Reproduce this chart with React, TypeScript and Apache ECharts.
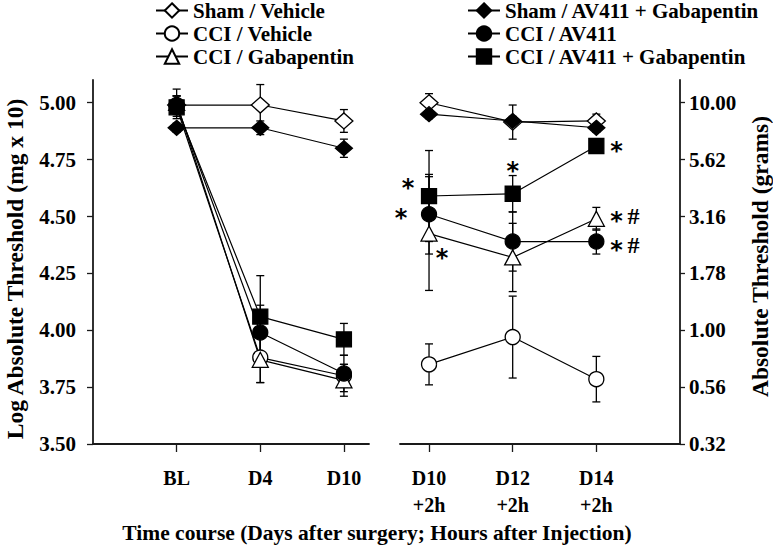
import React, { useEffect, useRef } from "react";
import * as echarts from "echarts";

// ---------- data ----------
const leftCategories = ["BL", "D4", "D10"];
const rightCategories = ["D10\n+2h", "D12\n+2h", "D14\n+2h"];
const yTickValues = [3.5, 3.75, 4.0, 4.25, 4.5, 4.75, 5.0];

const groupNames = [
  "Sham / Vehicle",
  "CCI / Vehicle",
  "CCI / Gabapentin",
  "Sham / AV411 + Gabapentin",
  "CCI / AV411",
  "CCI / AV411 + Gabapentin",
];

// Log absolute threshold means (left panel: BL, D4, D10)
const shamVehicleLeft = [4.99, 4.99, 4.92];
const cciVehicleLeft = [4.98, 3.88, 3.8];
const cciGabaLeft = [5.0, 3.87, 3.78];
const shamAvGabaLeft = [4.89, 4.89, 4.8];
const cciAvLeft = [4.99, 3.99, 3.81];
const cciAvGabaLeft = [4.98, 4.06, 3.96];

// SEM (left panel)
const shamVehicleLeftErr = [0.04, 0.09, 0.05];
const cciVehicleLeftErr = [0.05, 0.11, 0.05];
const cciGabaLeftErr = [0.06, 0.1, 0.07];
const shamAvGabaLeftErr = [0.02, 0.03, 0.04];
const cciAvLeftErr = [0.04, 0.12, 0.08];
const cciAvGabaLeftErr = [0.03, 0.18, 0.07];

// Means (right panel: D10+2h, D12+2h, D14+2h)
const shamVehicleRight = [5.0, 4.915, 4.92];
const cciVehicleRight = [3.85, 3.97, 3.785];
const cciGabaRight = [4.425, 4.32, 4.49];
const shamAvGabaRight = [4.95, 4.92, 4.89];
const cciAvRight = [4.51, 4.39, 4.39];
const cciAvGabaRight = [4.59, 4.6, 4.81];

// SEM (right panel)
const shamVehicleRightErr = [0.04, 0.075, 0.03];
const cciVehicleRightErr = [0.09, 0.18, 0.1];
const cciGabaRightErr = [0.25, 0.15, 0.05];
const shamAvGabaRightErr = [0.02, 0.02, 0.02];
const cciAvRightErr = [0.175, 0.13, 0.055];
const cciAvGabaRightErr = [0.2, 0.08, 0.03];

// significance annotations in right panel (x position, log value, text)
const annotX = [0.75, 0.665, 1.155, 2.0, 3.24, 3.24, 3.24];
const annotY = [4.653, 4.52, 4.342, 4.728, 4.816, 4.505, 4.38];
const annotText = ["*", "*", "*", "*", "*", "*#", "*#"];

const leftMeans = [shamVehicleLeft, cciVehicleLeft, cciGabaLeft, shamAvGabaLeft, cciAvLeft, cciAvGabaLeft];
const leftErrs = [shamVehicleLeftErr, cciVehicleLeftErr, cciGabaLeftErr, shamAvGabaLeftErr, cciAvLeftErr, cciAvGabaLeftErr];
const rightMeans = [shamVehicleRight, cciVehicleRight, cciGabaRight, shamAvGabaRight, cciAvRight, cciAvGabaRight];
const rightErrs = [shamVehicleRightErr, cciVehicleRightErr, cciGabaRightErr, shamAvGabaRightErr, cciAvRightErr, cciAvGabaRightErr];

// ---------- styles ----------
const FONT = "'Liberation Serif', 'Times New Roman', serif";
const STAR_FONT = "'DejaVu Sans', sans-serif";
const markerStyles: { symbol: string; size: number | number[]; fill: string }[] = [
  { symbol: "diamond", size: [18, 16], fill: "#ffffff" },
  { symbol: "circle", size: 15, fill: "#ffffff" },
  { symbol: "triangle", size: [16, 15], fill: "#ffffff" },
  { symbol: "diamond", size: [17, 15], fill: "#000000" },
  { symbol: "circle", size: 15, fill: "#000000" },
  { symbol: "rect", size: 15, fill: "#000000" },
];

function errorBarRender(params: any, api: any) {
  const x = api.value(0);
  const lo = api.coord([x, api.value(1)]);
  const hi = api.coord([x, api.value(2)]);
  const w = 4;
  const st = { stroke: "#000", lineWidth: 1.3 };
  return {
    type: "group",
    children: [
      { type: "line", shape: { x1: lo[0], y1: lo[1], x2: hi[0], y2: hi[1] }, style: st },
      { type: "line", shape: { x1: lo[0] - w, y1: lo[1], x2: lo[0] + w, y2: lo[1] }, style: st },
      { type: "line", shape: { x1: hi[0] - w, y1: hi[1], x2: hi[0] + w, y2: hi[1] }, style: st },
    ],
  };
}

function annotRender(params: any, api: any) {
  const p = api.coord([api.value(0), api.value(1)]);
  const text = annotText[params.dataIndex];
  const children: any[] = [
    {
      type: "text",
      x: p[0],
      y: p[1] + 6,
      style: {
        text: "*",
        font: `bold 24px ${STAR_FONT}`,
        fill: "#000",
        textAlign: "center",
        textVerticalAlign: "middle",
      },
    },
  ];
  if (text.length > 1) {
    children.push({
      type: "text",
      x: p[0] + 17,
      y: p[1] + 1,
      style: {
        text: text.slice(1),
        font: `bold 24px ${FONT}`,
        fill: "#000",
        textAlign: "center",
        textVerticalAlign: "middle",
      },
    });
  }
  return { type: "group", children };
}

export default function App() {
  const ref = useRef<HTMLDivElement>(null);
  useEffect(() => {
    if (!ref.current) return;
    const chart = echarts.init(ref.current, undefined, { renderer: "svg" });

    const axisLineStyle = { color: "#1a1a1a", width: 1.8 };
    const labelStyle = { fontFamily: FONT, fontWeight: "bold" as const, color: "#000" };

    const series: any[] = [];
    // error bars first (below)
    [0, 1].forEach((panel) => {
      const means = panel === 0 ? leftMeans : rightMeans;
      const errs = panel === 0 ? leftErrs : rightErrs;
      const data: number[][] = [];
      means.forEach((arr, g) =>
        arr.forEach((v, i) => data.push([i + 1, v - errs[g][i], v + errs[g][i]]))
      );
      series.push({
        type: "custom",
        name: "err" + panel,
        xAxisIndex: panel,
        yAxisIndex: panel,
        renderItem: errorBarRender,
        data,
        z: 1,
        silent: true,
      });
    });
    groupNames.forEach((name, g) => {
      const m = markerStyles[g];
      [0, 1].forEach((panel) => {
        const means = panel === 0 ? leftMeans : rightMeans;
        series.push({
          type: "line",
          name,
          xAxisIndex: panel,
          yAxisIndex: panel,
          data: means[g].map((v, i) => [i + 1, v]),
          symbol: m.symbol,
          symbolSize: m.size,
          showAllSymbol: true,
          lineStyle: { color: "#000", width: 1.2 },
          itemStyle: { color: m.fill, borderColor: "#000", borderWidth: 1.3 },
          z: 2,
        });
      });
    });
    series.push({
      type: "custom",
      name: "annot",
      xAxisIndex: 1,
      yAxisIndex: 1,
      renderItem: annotRender,
      data: annotX.map((x, i) => [x, annotY[i]]),
      z: 3,
      silent: true,
    });

    const xAxisCommon = {
      type: "value",
      axisLine: { show: true, lineStyle: axisLineStyle },
      axisTick: { show: true, length: 8, lineStyle: { color: "#1a1a1a", width: 1.3 }, customValues: [1, 2, 3] },
      splitLine: { show: false },
      axisLabel: {
        ...labelStyle,
        fontSize: 20,
        lineHeight: 27,
        margin: 20,
        customValues: [1, 2, 3],
      },
    };

    const yAxisCommon = {
      type: "value",
      min: 3.5,
      max: 5.1,
      splitLine: { show: false },
      axisLine: { show: true, lineStyle: axisLineStyle },
      axisTick: { show: true, length: 6, lineStyle: { color: "#1a1a1a", width: 1.3 }, customValues: yTickValues },
      nameLocation: "middle",
      nameRotate: 90,
    };

    const option: any = {
      animation: false,
      backgroundColor: "#ffffff",
      grid: [
        { left: 93, width: 276, top: 80, bottom: 101 },
        { left: 400, width: 280, top: 80, bottom: 101 },
      ],
      xAxis: [
        {
          ...xAxisCommon,
          gridIndex: 0,
          min: 0,
          max: 3.3,
          axisLabel: { ...xAxisCommon.axisLabel, formatter: (v: number) => leftCategories[Math.round(v) - 1] ?? "" },
        },
        {
          ...xAxisCommon,
          gridIndex: 1,
          min: 0.653,
          max: 4,
          axisLabel: { ...xAxisCommon.axisLabel, formatter: (v: number) => rightCategories[Math.round(v) - 1] ?? "" },
        },
      ],
      yAxis: [
        {
          ...yAxisCommon,
          gridIndex: 0,
          position: "left",
          name: "Log Absolute Threshold (mg x 10)",
          nameGap: 66,
          nameTextStyle: { ...labelStyle, fontSize: 23.5, padding: [0, 14, 0, 0] },
          axisLabel: {
            ...labelStyle,
            fontSize: 21,
            margin: 17,
            customValues: yTickValues,
            formatter: (v: number) => v.toFixed(2),
          },
        },
        {
          ...yAxisCommon,
          gridIndex: 1,
          position: "right",
          name: "Absolute Threshold (grams)",
          nameGap: 68,
          nameTextStyle: { ...labelStyle, fontSize: 23.5, padding: [0, 0, 0, 11] },
          axisTick: { ...yAxisCommon.axisTick, length: 5 },
          axisLabel: {
            ...labelStyle,
            fontSize: 21,
            margin: 9,
            customValues: yTickValues,
            formatter: (v: number) => Math.pow(10, v - 4).toFixed(2),
          },
        },
      ],
      legend: [
        {
          orient: "vertical",
          left: 150,
          top: -5,
          itemWidth: 32,
          itemHeight: 18,
          itemGap: 2,
          data: groupNames.slice(0, 3),
          textStyle: { ...labelStyle, fontSize: 21, lineHeight: 21 },
        },
        {
          orient: "vertical",
          left: 462,
          top: -5,
          itemWidth: 32,
          itemHeight: 18,
          itemGap: 2,
          data: groupNames.slice(3),
          textStyle: { ...labelStyle, fontSize: 21, lineHeight: 21 },
        },
      ],
      graphic: [
        {
          type: "text",
          x: 377,
          y: 533,
          style: {
            text: "Time course (Days after surgery; Hours after Injection)",
            font: `bold 21.5px ${FONT}`,
            fill: "#000",
            textAlign: "center",
            textVerticalAlign: "middle",
          },
        },
      ],
      series,
    };
    chart.setOption(option);
    return () => chart.dispose();
  }, []);
  return <div ref={ref} style={{ width: 773, height: 545, position: "absolute", left: 0, top: 0 }} />;
}
